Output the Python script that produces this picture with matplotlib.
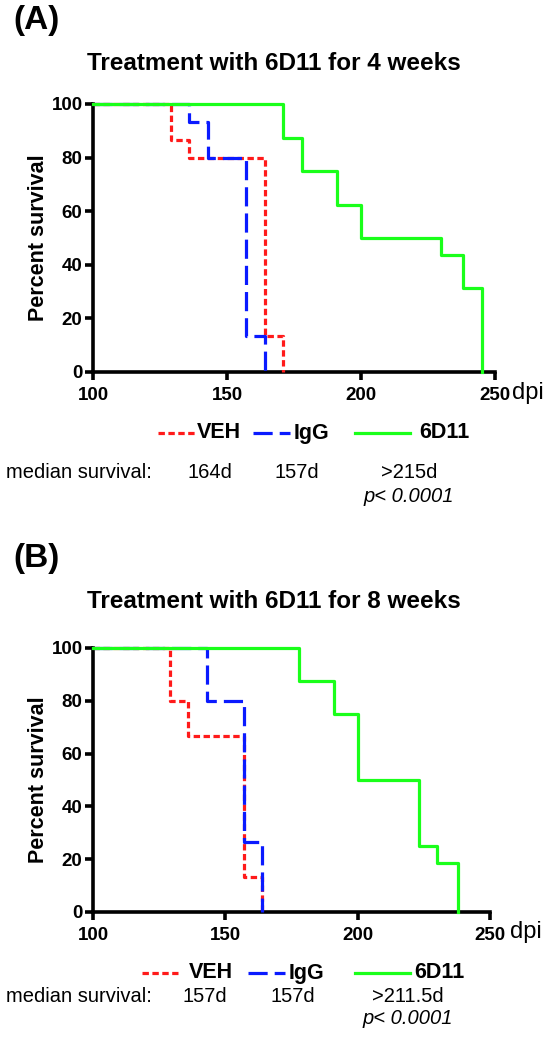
import matplotlib
matplotlib.use('Agg')
import matplotlib.pyplot as plt
from matplotlib.lines import Line2D

plt.rcParams['font.family'] = ['Liberation Sans', 'DejaVu Sans']

# Panel A: treatment for 4 weeks
a_veh_t = [100, 129, 136, 164, 171]
a_veh_s = [100, 86.7, 80, 13.3, 0]
a_igg_t = [100, 136, 143, 157, 164]
a_igg_s = [100, 93.3, 80, 13.3, 0]
a_6d11_t = [100, 171, 178, 191, 200, 230, 238, 245]
a_6d11_s = [100, 87.5, 75, 62.5, 50, 43.75, 31.25, 0]
a_median = ['164d', '157d', '>215d']

# Panel B: treatment for 8 weeks
b_veh_t = [100, 129, 136, 157, 164]
b_veh_s = [100, 80, 66.7, 13.3, 0]
b_igg_t = [100, 143, 157, 164]
b_igg_s = [100, 80, 26.7, 0]
b_6d11_t = [100, 178, 191, 200, 223, 230, 238]
b_6d11_s = [100, 87.5, 75, 50, 25, 18.75, 0]
b_median = ['157d', '157d', '>211.5d']

groups = ['VEH', 'IgG', '6D11']
xticks = [100, 150, 200, 250]
yticks = [0, 20, 40, 60, 80, 100]

W, H = 559, 1050
fig = plt.figure(figsize=(W / 100, H / 100), dpi=100)

styles = {
    'VEH': dict(color='#ff1a1a', lw=2.3, linestyle=(0, (2.0, 1.1))),
    'IgG': dict(color='#0a1aff', lw=2.3, linestyle=(0, (6.0, 2.2))),
    '6D11': dict(color='#1aff1a', lw=2.3, linestyle='-'),
}


def fx(px):
    return px / W


def fy(py):
    return 1 - py / H


def panel(rect, data, title, letter, title_y, letter_y, dpi_x, dpi_y, legend_y, legend_pos, median, median_x, median_y, p_y):
    ax = fig.add_axes(rect)
    for name, (t, s) in zip(groups, data):
        ax.step(t, s, where='post', clip_on=False, zorder=3, **styles[name])
    ax.set_xlim(100, 250)
    ax.set_ylim(0, 100)
    ax.set_xticks(xticks)
    ax.set_yticks(yticks)
    for sp in ['top', 'right']:
        ax.spines[sp].set_visible(False)
    for sp in ['left', 'bottom']:
        ax.spines[sp].set_linewidth(2.6)
    ax.tick_params(direction='out', length=6, width=2.6, labelsize=13.5)
    ax.tick_params(axis='x', pad=5)
    ax.tick_params(axis='y', pad=1.5)
    for lab in ax.get_xticklabels() + ax.get_yticklabels():
        lab.set_fontweight('bold')
    ax.set_ylabel('Percent survival', fontsize=15.5, fontweight='bold', labelpad=2)

    fig.text(fx(274), fy(title_y), title, ha='center', va='center', fontsize=17.5, fontweight='bold')
    fig.text(fx(13), fy(letter_y), letter, ha='left', va='center', fontsize=24, fontweight='bold')
    fig.text(fx(dpi_x), fy(dpi_y), 'dpi', ha='left', va='center', fontsize=17)

    # legend row
    for name, (x0, x1, xt) in zip(groups, legend_pos):
        st = dict(styles[name])
        fig.add_artist(Line2D([fx(x0), fx(x1)], [fy(legend_y), fy(legend_y)], transform=fig.transFigure, **st))
        fig.text(fx(xt), fy(legend_y), name, ha='left', va='center', fontsize=15.5, fontweight='bold')

    fig.text(fx(6), fy(median_y), 'median survival:', ha='left', va='center', fontsize=14.5)
    for m, x in zip(median, median_x):
        fig.text(fx(x), fy(median_y), m, ha='center', va='center', fontsize=14.5)
    fig.text(fx(median_x[2]), fy(p_y), 'p< 0.0001', ha='center', va='center', fontsize=14.5, style='italic')
    return ax


rect_a = [fx(93), fy(372), fx(495) - fx(93), (372 - 104) / H]
rect_b = [fx(93), fy(912), fx(490) - fx(93), (912 - 648) / H]

panel(rect_a,
      [(a_veh_t, a_veh_s), (a_igg_t, a_igg_s), (a_6d11_t, a_6d11_s)],
      'Treatment with 6D11 for 4 weeks', '(A)', 63, 20, 512, 393, 433,
      [(158, 195, 197), (253, 290, 294), (355, 410, 419)],
      a_median, [210, 297, 409], 472, 497)

panel(rect_b,
      [(b_veh_t, b_veh_s), (b_igg_t, b_igg_s), (b_6d11_t, b_6d11_s)],
      'Treatment with 6D11 for 8 weeks', '(B)', 602, 558, 510, 932, 973,
      [(142, 178, 189), (248, 285, 289), (355, 410, 414)],
      b_median, [205, 293, 408], 997, 1018)

fig.savefig('out.png', dpi=100)
